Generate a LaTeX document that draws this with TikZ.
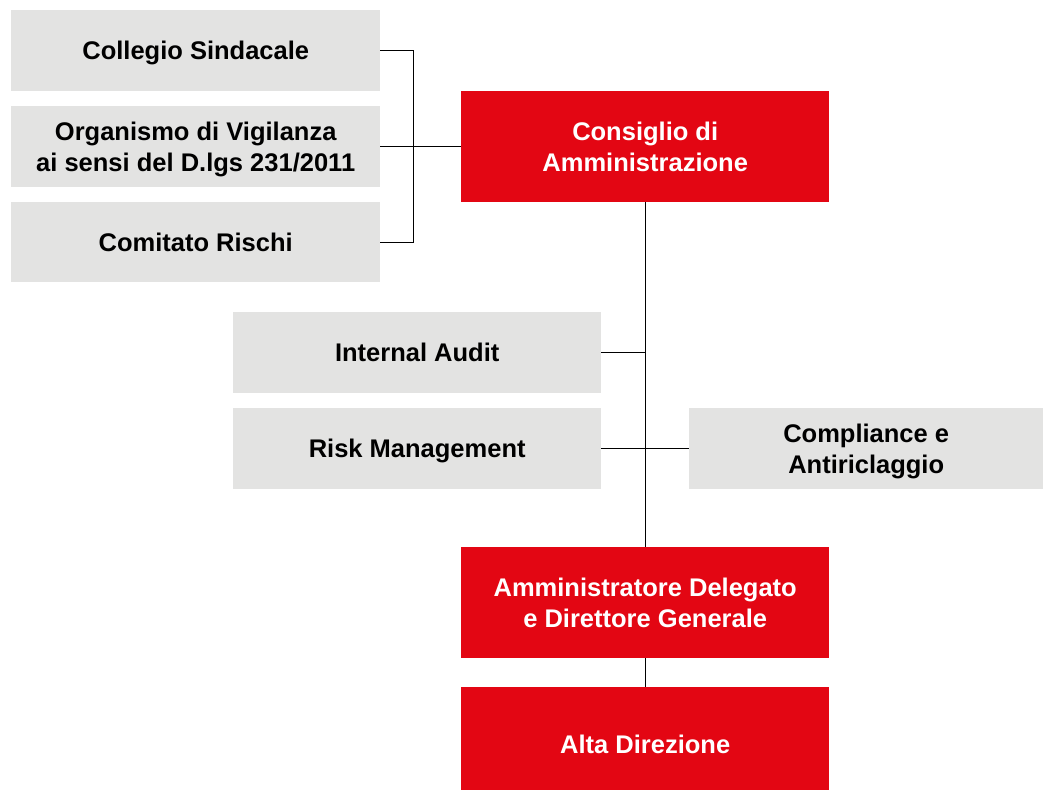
\documentclass[tikz,border=0pt]{standalone}
\usepackage{fontspec}
\setmainfont{Liberation Sans}
\definecolor{cred}{HTML}{E30613}
\definecolor{cgray}{HTML}{E3E3E2}
\begin{document}
\begin{tikzpicture}[x=1pt,y=-1pt,
  box/.style={anchor=north west,inner sep=0pt,align=center,text depth=0pt,font=\fontsize{25.5}{31}\selectfont\bfseries},
  graybox/.style={box,fill=cgray,text=black},
  redbox/.style={box,fill=cred,text=white},
  conn/.style={draw=black,line width=1pt}]
\useasboundingbox (0,0) rectangle (1043,789);
\node[graybox,minimum width=369pt,minimum height=81pt] (cs) at (11,10) {Collegio Sindacale};
\node[graybox,minimum width=369pt,minimum height=81pt] (ov) at (11,106) {Organismo di Vigilanza\\ai sensi del D.lgs 231/2011};
\node[graybox,minimum width=369pt,minimum height=80pt] (cr) at (11,202) {Comitato Rischi};
\node[redbox,minimum width=368pt,minimum height=111pt] (cda) at (461,91) {Consiglio di\\Amministrazione};
\node[graybox,minimum width=368pt,minimum height=81pt] (ia) at (233,312) {Internal Audit};
\node[graybox,minimum width=368pt,minimum height=81pt] (rm) at (233,408) {Risk Management};
\node[graybox,minimum width=354pt,minimum height=81pt] (ca) at (689,408) {Compliance e\\Antiriclaggio};
\node[redbox,minimum width=368pt,minimum height=111pt] (ad) at (461,547) {Amministratore Delegato\\e Direttore Generale};
\node[redbox,minimum width=368pt,minimum height=114pt] (alta) at (461,687) {Alta Direzione};
\coordinate (bt) at (413,0);
\draw[conn] (cs.east) -| (bt |- ov.east);
\draw[conn] (cr.east) -| (bt |- ov.east);
\draw[conn] (ov.east) -- (cda.west);
\coordinate (vx) at (645,0);
\draw[conn] (vx |- cda.south) -- (vx |- ad.north);
\draw[conn] (ia.east) -- (vx |- ia.east);
\draw[conn] (rm.east) -- (ca.west);
\draw[conn] (ad.south) -- (alta.north);
\end{tikzpicture}
\end{document}
